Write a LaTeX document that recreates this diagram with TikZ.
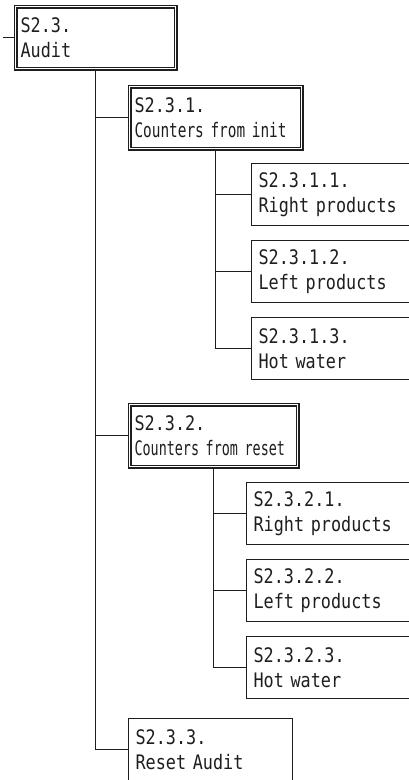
\documentclass[tikz,border=0pt]{standalone}
\usepackage{fontspec}
\usepackage{xcolor}
\newfontfamily\boxfont[FakeStretch=0.84]{DejaVu Sans Mono}
\newfontfamily\initfont[FakeStretch=0.72]{DejaVu Sans Mono}
\newfontfamily\resetfont[FakeStretch=0.67]{DejaVu Sans Mono}
\definecolor{menuline}{RGB}{30,30,30}

\begin{document}
\begin{tikzpicture}[x=1pt, y=-1pt,
    menubox/.style={draw=menuline, line width=1.2pt, rectangle,
      anchor=north west, align=left, text width=#1,
      inner xsep=7pt, inner ysep=0pt, minimum height=62pt,
      text=menuline, font=\boxfont\fontsize{20}{25}\selectfont},
    groupbox/.style={menubox=#1, double=white, double distance=1.8pt,
      line width=1.1pt, inner xsep=5pt},
    link/.style={draw=menuline, line width=1.2pt}]

    \useasboundingbox (0,0) rectangle (409,780);
    \clip (0,0) rectangle (409,780);

    % Top entry
    \node[groupbox=150pt] (audit) at (15,6) {S2.3.\\Audit};
    \coordinate (entry) at ([xshift=-12pt]audit.west);
    \draw[link] (entry) -- (audit.west);

    % Group boxes
    \node[groupbox=162pt] (init) at (129,86)
      {S2.3.1.\\{\initfont Counters from init}};
    \node[groupbox=158pt] (reset) at (129,404)
      {S2.3.2.\\{\resetfont Counters from reset}};
    \node[menubox=150pt] (resetaudit) at (128,718)
      {S2.3.3.\\Reset Audit};

    \draw[link] (audit.south) |- (init.west);
    \draw[link] (audit.south) |- (reset.west);
    \draw[link] (audit.south) |- (resetaudit.west);

    % Leaves under S2.3.1.
    \foreach \name/\top/\num/\txt in {initright/163/1/Right products,
        initleft/240/2/Left products, inithot/317/3/Hot water}{
      \node[menubox=160pt] (\name) at (251,\top) {S2.3.1.\num.\\\txt};
      \draw[link] (init.south) |- (\name.west);
    }

    % Leaves under S2.3.2.
    \foreach \name/\top/\num/\txt in {resetright/482/1/Right products,
        resetleft/559/2/Left products, resethot/636/3/Hot water}{
      \node[menubox=160pt] (\name) at (246,\top) {S2.3.2.\num.\\\txt};
      \draw[link] (reset.south) |- (\name.west);
    }

  \end{tikzpicture}
\end{document}
